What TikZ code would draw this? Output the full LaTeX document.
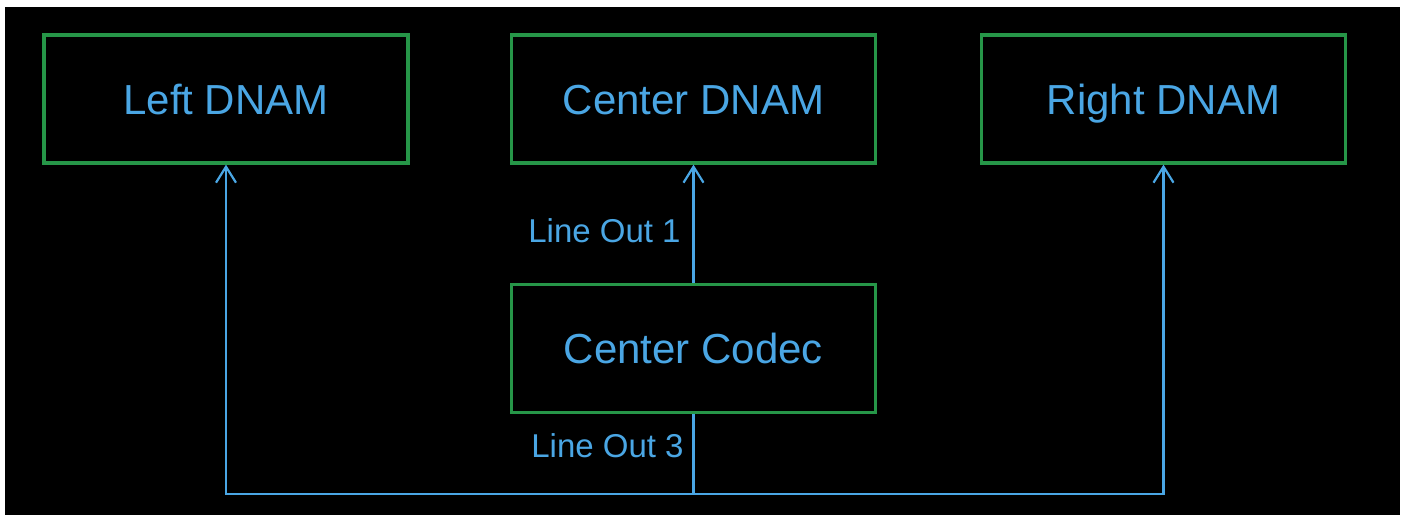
\documentclass[tikz,border=0pt]{standalone}
\usepackage{fontspec}
\setmainfont{Liberation Sans}
\usetikzlibrary{positioning,calc}
\usetikzlibrary{arrows.meta}
\definecolor{BoxGreen}{RGB}{38,150,72}
\definecolor{WireBlue}{RGB}{74,166,228}
\tikzset{
  unit/.style={draw=BoxGreen,line width=1.6pt,minimum width=182pt,minimum height=64pt,
    inner sep=0pt,text height=15pt,text depth=0pt,text=WireBlue,font=\fontsize{21}{25}\selectfont},
  wire/.style={draw=WireBlue,line width=1.1pt},
  tip/.style={-{Straight Barb[length=8pt,width=10pt,line width=1.1pt]}},
}
\tikzset{outlab/.style={text=WireBlue,font=\fontsize{16.5}{20}\selectfont,anchor=east,inner sep=0pt}}

\begin{document}
\begin{tikzpicture}[x=0.5pt,y=-0.5pt]
\useasboundingbox (0,0) rectangle (1404,515);
\fill[white] (0,0) rectangle (1404,515);
\fill[black] (5,7) rectangle (1400,515);
\node[unit] (ldnam) at (226,99) {Left DNAM};
\node[unit] (cdnam) at (693.5,99) {Center DNAM};
\node[unit] (rdnam) at (1163.5,99) {Right DNAM};
\node[unit] (codec) at (693.5,348.5) {Center Codec};
\coordinate (jn) at (693.5,494);
\draw[wire,tip] (codec.north)--(cdnam.south);
\draw[wire] (codec.south)--(jn);
\draw[wire,tip] (jn)-|(ldnam.south);
\draw[wire,tip] (jn)-|(rdnam.south);
\node[outlab] (lo1) at (681,231) {Line Out 1};
\node[outlab] (lo3) at (684,446) {Line Out 3};
\end{tikzpicture}
\end{document}
